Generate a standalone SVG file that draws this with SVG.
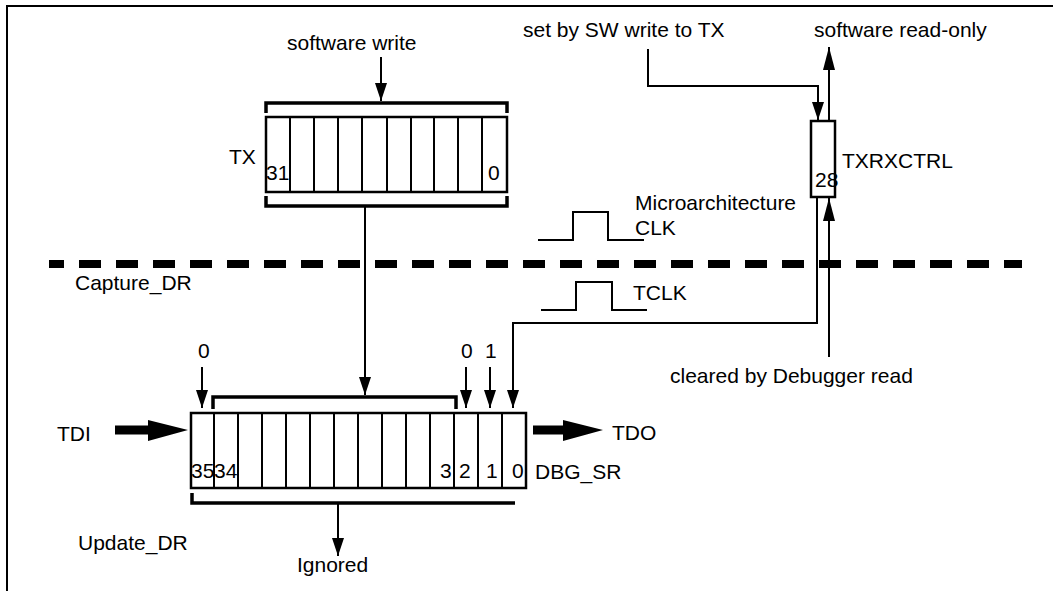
<svg xmlns="http://www.w3.org/2000/svg" width="1053" height="591" viewBox="0 0 1053 591">
<style>
text{font-family:"Liberation Sans",Arial,sans-serif;font-size:21px;fill:#000}
.ln{fill:none;stroke:#000;stroke-width:2}
.box{fill:#fff;stroke:#000;stroke-width:2.5}
.div{stroke:#000;stroke-width:2}
.br{fill:none;stroke:#000;stroke-width:3.5}
</style>
<defs>
<marker id="ah" markerWidth="18" markerHeight="12" refX="18" refY="6" orient="auto" markerUnits="userSpaceOnUse"><path d="M0,0 L18,6 L0,12 z" fill="#000"/></marker>
<marker id="ahL" markerWidth="23" markerHeight="12" refX="23" refY="6" orient="auto" markerUnits="userSpaceOnUse"><path d="M0,0 L23,6 L0,12 z" fill="#000"/></marker>
</defs>
<rect width="1053" height="591" fill="#fff"/>
<path d="M7,591 V6 H1053" class="ln"/>
<line x1="49" y1="264" x2="1022" y2="264" stroke="#000" stroke-width="8" stroke-dasharray="22 15" stroke-dashoffset="7"/>

<g id="labels">
<text x="287" y="50">software write</text>
<text x="523" y="37">set by SW write to TX</text>
<text x="814" y="37">software read-only</text>
<text x="635" y="210">Microarchitecture</text>
<text x="635" y="235">CLK</text>
<text x="633" y="300">TCLK</text>
<text x="75" y="290">Capture_DR</text>
<text x="670" y="383">cleared by Debugger read</text>
<text x="198" y="358">0</text>
<text x="461" y="358">0</text>
<text x="485" y="358">1</text>
<text x="78" y="550">Update_DR</text>
<text x="297" y="572">Ignored</text>
<text x="57" y="441">TDI</text>
<text x="612" y="440">TDO</text>
</g>

<g id="clk-micro">
<polyline points="538,240 573,240 573,212 608,212 608,240 644,240" class="ln"/>
</g>
<g id="clk-tclk">
<polyline points="541,310 576,310 576,282 612,282 612,310 647,310" class="ln"/>
</g>

<g id="tx-register">
<path d="M266,113 V103 H507 V113" class="br"/>
<rect x="266" y="117" width="241" height="75" class="box"/>
<g class="div">
<line x1="290" y1="117" x2="290" y2="192"/><line x1="314" y1="117" x2="314" y2="192"/>
<line x1="338" y1="117" x2="338" y2="192"/><line x1="362" y1="117" x2="362" y2="192"/>
<line x1="387" y1="117" x2="387" y2="192"/><line x1="411" y1="117" x2="411" y2="192"/>
<line x1="434" y1="117" x2="434" y2="192"/><line x1="458" y1="117" x2="458" y2="192"/>
<line x1="482" y1="117" x2="482" y2="192"/>
</g>
<path d="M266,196 V206 H507 V196" class="br"/>
<text x="266" y="180">31</text>
<text x="488" y="180">0</text>
<text x="229" y="164">TX</text>
</g>

<g id="txrxctrl">
<rect x="811" y="121" width="24" height="76" class="box"/>
<text x="815" y="187">28</text>
<text x="842" y="168">TXRXCTRL</text>
</g>

<g id="dbg-sr">
<path d="M213,409 V397 H456 V409" class="br"/>
<rect x="191" y="413" width="335" height="75" class="box"/>
<g class="div">
<line x1="214" y1="413" x2="214" y2="488"/><line x1="238" y1="413" x2="238" y2="488"/>
<line x1="262" y1="413" x2="262" y2="488"/><line x1="286" y1="413" x2="286" y2="488"/>
<line x1="310" y1="413" x2="310" y2="488"/><line x1="334" y1="413" x2="334" y2="488"/>
<line x1="358" y1="413" x2="358" y2="488"/><line x1="382" y1="413" x2="382" y2="488"/>
<line x1="406" y1="413" x2="406" y2="488"/><line x1="430" y1="413" x2="430" y2="488"/>
<line x1="454" y1="413" x2="454" y2="488"/><line x1="478" y1="413" x2="478" y2="488"/>
<line x1="502" y1="413" x2="502" y2="488"/>
</g>
<path d="M192,493 V503 H515" class="br"/>
<text x="191" y="478">35</text>
<text x="214" y="478">34</text>
<text x="440" y="478">3</text>
<text x="459" y="478">2</text>
<text x="486" y="478">1</text>
<text x="512" y="478">0</text>
<text x="535" y="479">DBG_SR</text>
</g>

<g id="connectors">
<line x1="381" y1="57" x2="381" y2="101" class="ln" marker-end="url(#ah)"/>
<line x1="365" y1="206" x2="365" y2="395" class="ln" marker-end="url(#ah)"/>
<polyline points="648,49 648,86 818,86 818,120" class="ln" marker-end="url(#ah)"/>
<line x1="829" y1="120" x2="829" y2="47" class="ln" marker-end="url(#ahL)"/>
<line x1="829" y1="357" x2="829" y2="198" class="ln" marker-end="url(#ahL)"/>
<polyline points="817,197 817,323 513,323 513,408" class="ln" marker-end="url(#ah)"/>
<line x1="202" y1="367" x2="202" y2="408" class="ln" marker-end="url(#ah)"/>
<line x1="466" y1="367" x2="466" y2="408" class="ln" marker-end="url(#ah)"/>
<line x1="490" y1="367" x2="490" y2="408" class="ln" marker-end="url(#ah)"/>
<line x1="338" y1="503" x2="338" y2="556" class="ln" marker-end="url(#ah)"/>
<path d="M115,425.5 H148 V420 L188,430 L148,441 V434.5 H115 z" fill="#000"/>
<path d="M533,425.5 H563 V420 L603,430 L563,441 V434.5 H533 z" fill="#000"/>
</g>
</svg>
